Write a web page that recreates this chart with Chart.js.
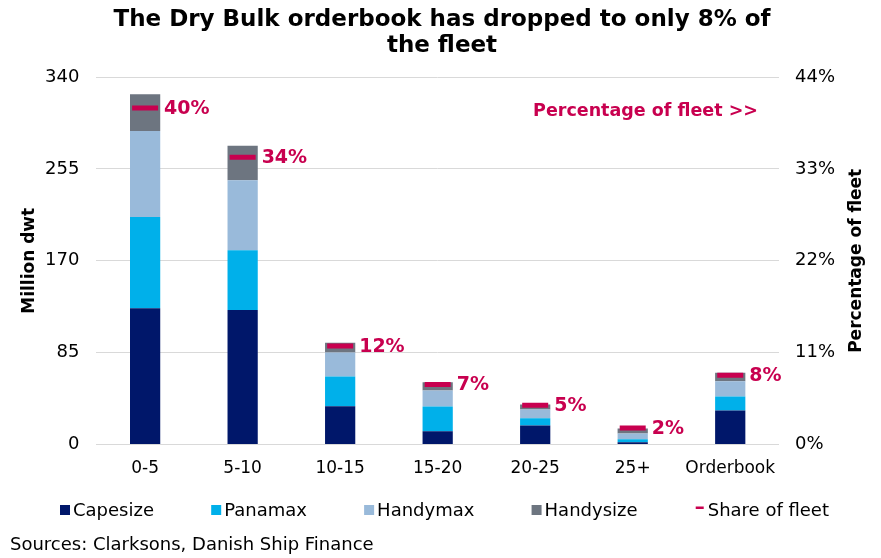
<!DOCTYPE html>
<html><head><meta charset="utf-8">
<script src="https://cdn.jsdelivr.net/npm/chart.js@4"></script>
<style>html,body{margin:0;padding:0;background:#fff}#wrap{width:881px;height:558px}</style>
</head><body><div id="wrap"><canvas id="c" width="881" height="558"></canvas></div>
<script>
const categories = ["0-5","5-10","10-15","15-20","20-25","25+","Orderbook"];
const capesize  = [126, 124.4, 35.5, 12.3, 17.6, 2.2, 31.5];
const panamax   = [84.6, 55.3, 27.5, 22.9, 6.8, 2.8, 13.0];
const handymax  = [79.4, 64.9, 22.2, 14.8, 8.0, 5.2, 14.2];
const handysize = [34.0, 31.8, 9.0, 7.7, 4.6, 4.6, 7.7];
const shareOfFleet = [40.3, 34.4, 11.8, 7.2, 4.7, 2.0, 8.3];
const leftTicks = [0, 85, 170, 255, 340];
const rightTicks = [0, 11, 22, 33, 44];
const titleLines = ['The Dry Bulk orderbook has dropped to only 8% of', 'the fleet'];
const sourceText = 'Sources: Clarksons, Danish Ship Finance';

const CRIMSON = '#C8004F';
const FONT = "'DejaVu Sans', Verdana, sans-serif";

const decorPlugin = {
  id: 'decor',
  afterDatasetsDraw(chart) {
    const ctx = chart.ctx;
    const meta = chart.getDatasetMeta(4);
    const ca = chart.chartArea;
    ctx.save();
    ctx.fillStyle = CRIMSON;
    ctx.font = "bold 19px " + FONT;
    ctx.textBaseline = 'middle';
    ctx.textAlign = 'left';
    meta.data.forEach((pt, i) => {
      ctx.fillText(Math.round(shareOfFleet[i]) + '%', pt.x + 19, pt.y + 1);
    });
    ctx.font = "bold 17.5px " + FONT;
    ctx.textAlign = 'right';
    ctx.fillText('Percentage of fleet >>', ca.right - 21, chart.scales.y.getPixelForValue(308));
    ctx.restore();
  },
  afterDraw(chart) {
    const ctx = chart.ctx;
    const ca = chart.chartArea;
    const midY = (ca.top + ca.bottom) / 2;
    ctx.save();
    ctx.fillStyle = '#000';
    ctx.textBaseline = 'middle';
    ctx.font = "bold 23px " + FONT;
    ctx.textAlign = 'center';
    ctx.fillText(titleLines[0], 442, 20);
    ctx.fillText(titleLines[1], 442, 46);
    ctx.font = "bold 17px " + FONT;
    ctx.save(); ctx.translate(30, midY); ctx.rotate(-Math.PI/2); ctx.fillText('Million dwt', 0, 0); ctx.restore();
    ctx.save(); ctx.translate(857, midY); ctx.rotate(-Math.PI/2); ctx.fillText('Percentage of fleet', 0, 0); ctx.restore();
    ctx.font = "18px " + FONT;
    ctx.textAlign = 'left';
    const ds = chart.data.datasets;
    const widths = ds.map(d => 14 + ctx.measureText(d.label).width);
    const total = widths.reduce((a,b)=>a+b,0);
    const start = 60, span = 770;
    const gap = (span - total) / (ds.length - 1);
    let x = start;
    const ly = 510;
    ds.forEach((d, i) => {
      if (d.type === 'line') {
        ctx.fillStyle = d.borderColor;
        ctx.fillRect(x + 1, ly - 3.5, 8, 2.5);
      } else {
        ctx.fillStyle = d.backgroundColor;
        ctx.fillRect(x, ly - 5, 10, 10);
      }
      ctx.fillStyle = '#000';
      ctx.fillText(d.label, x + 13, ly + 1);
      x += widths[i] + gap;
    });
    ctx.fillText(sourceText, 10, 545);
    ctx.restore();
  }
};

new Chart(document.getElementById('c'), {
  type: 'bar',
  data: {
    labels: categories,
    datasets: [
      {label:'Capesize', data:capesize, backgroundColor:'#00176A', stack:'s', yAxisID:'y', order:2},
      {label:'Panamax', data:panamax, backgroundColor:'#00B0EA', stack:'s', yAxisID:'y', order:2},
      {label:'Handymax', data:handymax, backgroundColor:'#99BADA', stack:'s', yAxisID:'y', order:2},
      {label:'Handysize', data:handysize, backgroundColor:'#6D7580', stack:'s', yAxisID:'y', order:2},
      {type:'line', label:'Share of fleet', data:shareOfFleet, yAxisID:'y2', showLine:false,
       pointStyle:'line', pointRadius:13, pointHoverRadius:13, pointBorderWidth:5, borderWidth:2,
       borderColor:CRIMSON, backgroundColor:CRIMSON, order:1}
    ]
  },
  options: {
    responsive:false, animation:false,
    layout:{padding:{left:28, right:30, top:77, bottom:73}},
    datasets:{bar:{barPercentage:0.31, categoryPercentage:1}},
    plugins:{
      tooltip:{enabled:false},
      title:{display:false},
      legend:{display:false}
    },
    scales:{
      x:{stacked:true, grid:{display:false}, border:{color:'#d9d9d9'},
        ticks:{color:'#000', font:{family:FONT, size:17}, padding:6, maxRotation:0, autoSkip:false}},
      y:{stacked:true, min:0, max:340, position:'left',
        afterBuildTicks(ax){ax.ticks = leftTicks.map(v=>({value:v}));},
        grid:{color:'#d9d9d9', drawTicks:false}, border:{display:false},
        ticks:{color:'#000', font:{family:FONT, size:18}, padding:17}},
      y2:{min:0, max:44, position:'right',
        afterBuildTicks(ax){ax.ticks = rightTicks.map(v=>({value:v}));},
        grid:{display:false, drawTicks:false}, border:{display:false},
        ticks:{color:'#000', font:{family:FONT, size:18}, padding:16, callback:v=>v+'%'}}
    }
  },
  plugins:[decorPlugin]
});
</script></body></html>
